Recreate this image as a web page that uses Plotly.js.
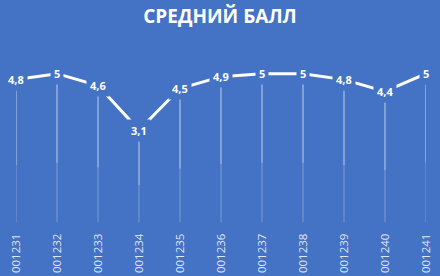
<!DOCTYPE html>
<html><head><meta charset="utf-8">
<script src="https://cdn.plot.ly/plotly-3.0.1.min.js"></script>
<style>html,body{margin:0;padding:0;background:#4472C4;}</style>
</head><body><div id="chart" style="width:440px;height:276px;"></div>
<script>
const categories = ['001231','001232','001233','001234','001235','001236','001237','001238','001239','001240','001241'];
const values = [4.8, 5, 4.6, 3.1, 4.5, 4.9, 5, 5, 4.8, 4.4, 5];
const labels = ['4,8','5','4,6','3,1','4,5','4,9','5','5','4,8','4,4','5'];
const bg = '#4472C4';

function dropLayer(frac, alpha) {
  return {
    x: categories, y: values, type: 'scatter', mode: 'none', hoverinfo: 'skip', cliponaxis: false,
    error_y: {type: 'data', symmetric: false, array: values.map(() => 0),
              arrayminus: values.map(v => v * frac), width: 0, thickness: 1, color: 'rgba(255,255,255,' + alpha + ')'}
  };
}
const lineTrace = {
  x: categories, y: values, type: 'scatter', mode: 'lines',
  line: {color: '#ffffff', width: 3}, cliponaxis: false, hoverinfo: 'skip'
};
const annotations = categories.map((c, i) => ({
  x: i, y: values[i], xref: 'x', yref: 'y', text: '<b>' + labels[i] + '</b>', showarrow: false,
  xanchor: 'center', yanchor: 'middle',
  bgcolor: bg, borderpad: 3, font: {family: 'Open Sans', size: 11, color: '#ffffff'}
}));
const layout = {
  width: 440, height: 276,
  paper_bgcolor: bg, plot_bgcolor: bg,
  margin: {l: 16, r: 14, t: 44, b: 54},
  showlegend: false,
  title: {text: '<b>СРЕДНИЙ БАЛЛ</b>', x: 0.5, xanchor: 'center', y: 1 - 16/276, yanchor: 'middle', yref: 'container',
          font: {family: 'Open Sans', size: 19, color: '#ffffff'}},
  xaxis: {type: 'category', range: [0, 10], showgrid: false, zeroline: false, showline: false,
          tickangle: -90, ticks: 'outside', ticklen: 6, tickcolor: 'rgba(0,0,0,0)',
          tickfont: {family: 'Open Sans', size: 11.5, color: 'rgba(255,255,255,0.85)'}},
  yaxis: {range: [0, 6], visible: false, showgrid: false, zeroline: false},
  annotations: annotations
};
Plotly.newPlot('chart', [dropLayer(1, 0.3), dropLayer(0.6, 0.45), lineTrace], layout,
               {staticPlot: true, displayModeBar: false});
</script></body></html>
